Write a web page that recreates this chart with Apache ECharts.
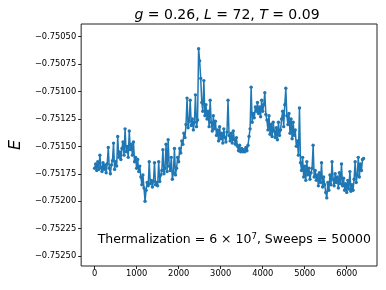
<!DOCTYPE html>
<html>
<head>
<meta charset="utf-8">
<script src="https://cdn.jsdelivr.net/npm/echarts@6/dist/echarts.min.js"></script>
<style>
html,body{margin:0;padding:0;background:#fff;}
#c{width:386px;height:290px;}
</style>
</head>
<body>
<div id="c"></div>
<script>
// Sweep spacing between stored samples
const sweepStep = 25;
// Energy samples (one per 25 sweeps, 0..6400)
const energy = [
-0.75170,-0.75166,-0.75172,-0.75164,-0.75171,-0.75158,-0.75169,-0.75173,-0.75165,-0.75171,-0.75167,
-0.75174,-0.75166,-0.75151,-0.75170,-0.75175,-0.75167,-0.75163,-0.75147,-0.75171,-0.75164,-0.75168,
-0.75141,-0.75160,-0.75155,-0.75162,-0.75152,-0.75146,-0.75158,
-0.75134,-0.75155,-0.75150,-0.75160,-0.75136,-0.75153,-0.75148,
-0.75158,-0.75146,-0.75164,-0.75160,-0.75170,-0.75162,-0.75173,
-0.75168,-0.75178,-0.75185,-0.75176,-0.75188,-0.75200,-0.75190,
-0.75183,-0.75186,-0.75164,-0.75184,-0.75181,-0.75187,-0.75182,-0.75165,-0.75185,-0.75183,-0.75186,-0.75164,-0.75182,
-0.75176,-0.75172,-0.75153,-0.75175,-0.75170,-0.75148,-0.75173,-0.75144,
-0.75168,-0.75172,-0.75160,-0.75180,-0.75174,-0.75152,-0.75176,
-0.75170,-0.75160,-0.75164,-0.75152,-0.75156,-0.75145,-0.75148,-0.75138,-0.75142,
-0.75130,-0.75106,-0.75133,-0.75127,-0.75108,-0.75131,-0.75125,-0.75135,-0.75128,-0.75103,-0.75132,-0.75126,
-0.75061,-0.75072,-0.75088,-0.75110,
-0.75118,-0.75090,-0.75122,-0.75112,
-0.75125,-0.75118,-0.75132,-0.75108,-0.75128,-0.75136,-0.75122,-0.75134,-0.75127,
-0.75140,-0.75135,-0.75145,-0.75132,-0.75143,-0.75138,-0.75147,-0.75134,-0.75142,-0.75146,-0.75137,
-0.75108,-0.75140,
-0.75145,-0.75138,-0.75147,-0.75136,-0.75144,-0.75148,-0.75142,
-0.75150,-0.75154,-0.75149,-0.75155,-0.75152,-0.75155,-0.75153,-0.75155,-0.75151,-0.75154,-0.75149,
-0.75141,-0.75134,-0.75096,-0.75128,-0.75120,-0.75124,-0.75114,-0.75118,
-0.75110,-0.75120,-0.75114,-0.75123,-0.75108,-0.75118,-0.75112,-0.75101,-0.75121,
-0.75126,-0.75135,-0.75122,-0.75139,-0.75130,-0.75141,-0.75128,-0.75136,
-0.75142,-0.75133,-0.75144,-0.75128,-0.75140,-0.75135,
-0.75125,-0.75118,-0.75132,-0.75112,-0.75097,-0.75122,
-0.75130,-0.75120,-0.75138,-0.75125,-0.75143,-0.75128,
-0.75140,-0.75135,-0.75150,-0.75145,-0.75158,-0.75115,-0.75165,
-0.75172,-0.75160,-0.75178,-0.75168,-0.75181,-0.75164,-0.75176,-0.75170,-0.75180,
-0.75174,-0.75170,-0.75149,-0.75178,-0.75172,
-0.75181,-0.75176,-0.75186,-0.75174,-0.75183,-0.75165,-0.75187,-0.75178,-0.75185,
-0.75192,-0.75197,-0.75183,-0.75190,-0.75176,
-0.75185,-0.75164,-0.75180,-0.75186,-0.75175,-0.75183,
-0.75178,-0.75188,-0.75174,-0.75184,-0.75166,-0.75186,-0.75179,
-0.75190,-0.75184,-0.75192,-0.75181,-0.75189,-0.75173,-0.75191,-0.75185,-0.75190,
-0.75180,-0.75164,-0.75183,-0.75176,-0.75160,-0.75178,
-0.75166,-0.75172,-0.75162,-0.75161
];
const xTicks = [0, 1000, 2000, 3000, 4000, 5000, 6000];
const yTicks = [-0.7525, -0.75225, -0.752, -0.75175, -0.7515, -0.75125, -0.751, -0.75075, -0.7505];
const titleParts = { g: '0.26', L: '72', T: '0.09' };
const annotation = 'Thermalization = 6 \u00d7 10';
const annotationExp = '7';
const annotationTail = ', Sweeps = 50000';

const seriesData = energy.map((e, i) => [i * sweepStep, e]);

const chart = echarts.init(document.getElementById('c'), null, { renderer: 'canvas' });
const FONT = 'DejaVu Sans';
const fmtY = v => '\u2212' + Math.abs(v).toFixed(5);

chart.setOption({
  animation: false,
  backgroundColor: '#fff',
  grid: { left: 77, right: 9, top: 24, bottom: 24, show: true, borderColor: '#222', borderWidth: 1, containLabel: false },
  xAxis: {
    type: 'value', min: -320, max: 6720,
    axisLine: { show: false, onZero: false },
    splitLine: { show: false },
    axisTick: { show: true, length: 3, inside: false, lineStyle: { color: '#222' }, customValues: xTicks },
    axisLabel: { customValues: xTicks, margin: 4, fontFamily: FONT, fontSize: 8.3, color: '#000', formatter: v => String(v) }
  },
  yAxis: {
    type: 'value', min: -0.752591, max: -0.750384,
    axisLine: { show: false, onZero: false },
    splitLine: { show: false },
    axisTick: { show: true, length: 3, lineStyle: { color: '#222' }, customValues: yTicks },
    axisLabel: { customValues: yTicks, margin: 5, fontFamily: FONT, fontSize: 8.3, color: '#000', formatter: fmtY },
    name: 'E', nameLocation: 'middle', nameRotate: 90, nameGap: 56,
    nameTextStyle: { fontFamily: FONT, fontStyle: 'italic', fontSize: 16, color: '#000' }
  },
  series: [{
    type: 'line',
    data: seriesData,
    showSymbol: true, showAllSymbol: true,
    symbol: 'circle', symbolSize: 3.4,
    itemStyle: { color: '#1f77b4' },
    lineStyle: { color: '#1f77b4', width: 1.5 },
    silent: true
  }],
  graphic: [
    {
      type: 'text', x: 227, y: 15,
      style: {
        text: '{i|g} = ' + titleParts.g + ', {i|L} = ' + titleParts.L + ', {i|T} = ' + titleParts.T,
        fontFamily: FONT, fontSize: 14, fill: '#000', align: 'center', verticalAlign: 'middle',
        rich: { i: { fontFamily: FONT, fontStyle: 'italic', fontSize: 14, fill: '#000' } }
      }
    },
    {
      type: 'text', x: 371, y: 240,
      style: {
        text: annotation + '{s|' + annotationExp + '}' + annotationTail,
        fontFamily: FONT, fontSize: 12.5, fill: '#000', align: 'right', verticalAlign: 'middle',
        rich: { s: { fontFamily: FONT, fontSize: 8.5, fill: '#000', verticalAlign: 'top', padding: [0, 0, 6, 0] } }
      }
    }
  ]
});
</script>
</body>
</html>
